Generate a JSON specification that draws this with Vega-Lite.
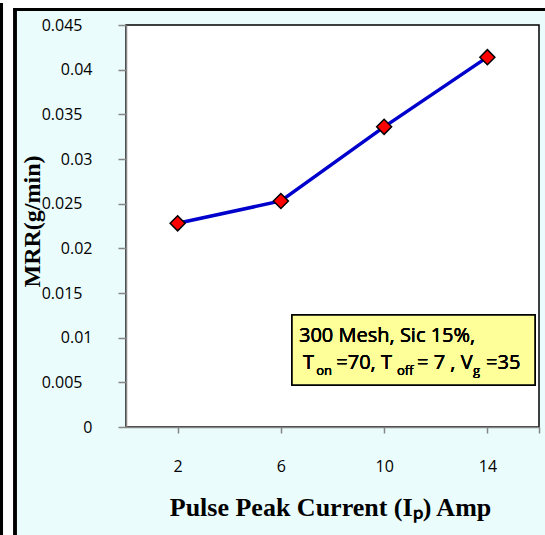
{
  "$schema": "https://vega.github.io/schema/vega-lite/v6.json",
  "width": 413,
  "height": 402,
  "autosize": "none",
  "padding": {"left": 126, "top": 25, "right": 6, "bottom": 108},
  "background": "#eafcfc",
  "config": {
    "view": {"fill": "white", "stroke": "black", "strokeWidth": 1.5},
    "axis": {"grid": false, "labelOverlap": false, "labelFlush": false}
  },
  "data": {"values": [
    {"current": 2, "mrr": 0.0228},
    {"current": 6, "mrr": 0.0253},
    {"current": 10, "mrr": 0.0336},
    {"current": 14, "mrr": 0.0414}
  ]},
  "layer": [
    {
      "mark": {"type": "rect", "fill": "white", "clip": false},
      "encoding": {"x": {"datum": -4.881}, "x2": {"datum": -4.339}, "y": {"datum": 0.047799}, "y2": {"datum": -0.01209}}
    },
    {
      "mark": {"type": "rect", "fill": "white", "clip": false},
      "encoding": {"x": {"datum": -4.881}, "x2": {"datum": 16.232}, "y": {"datum": 0.047799}, "y2": {"datum": 0.046735}}
    },
    {
      "mark": {"type": "rule", "color": "black", "strokeWidth": 3, "clip": false},
      "encoding": {"x": {"datum": -4.823}, "y": {"datum": 0.047463}, "y2": {"datum": -0.01209}}
    },
    {
      "mark": {"type": "rule", "color": "black", "strokeWidth": 3, "clip": false},
      "encoding": {"x": {"datum": -4.300}, "y": {"datum": 0.046735}, "y2": {"datum": -0.01209}}
    },
    {
      "mark": {"type": "rule", "color": "black", "strokeWidth": 3, "clip": false},
      "encoding": {"x": {"datum": -4.358}, "x2": {"datum": 16.232}, "y": {"datum": 0.046735}}
    },
    {
      "mark": {"type": "rect", "fill": "#ffff99", "stroke": "black", "strokeWidth": 1.5},
      "encoding": {"x": {"datum": 6.431}, "x2": {"datum": 15.845}, "y": {"datum": 0.012537}, "y2": {"datum": 0.004701}}
    },
    {
      "mark": {"type": "text", "text": "300 Mesh, Sic 15%,", "align": "left", "baseline": "alphabetic", "font": "Open Sans", "fontSize": 20, "color": "black"},
      "encoding": {"x": {"datum": 6.702}, "y": {"datum": 0.009515}}
    },
    {
      "mark": {"type": "text", "text": "T", "align": "left", "baseline": "alphabetic", "font": "Open Sans", "fontSize": 20, "color": "black"},
      "encoding": {"x": {"datum": 6.857}, "y": {"datum": 0.006493}}
    },
    {
      "mark": {"type": "text", "text": "on", "align": "left", "baseline": "alphabetic", "font": "Open Sans", "fontSize": 13, "dy": 6, "color": "black"},
      "encoding": {"x": {"datum": 7.372}, "y": {"datum": 0.006493}}
    },
    {
      "mark": {"type": "text", "text": "=70, T", "align": "left", "baseline": "alphabetic", "font": "Open Sans", "fontSize": 20, "color": "black"},
      "encoding": {"x": {"datum": 8.147}, "y": {"datum": 0.006493}}
    },
    {
      "mark": {"type": "text", "text": "off", "align": "left", "baseline": "alphabetic", "font": "Open Sans", "fontSize": 13, "dy": 6, "color": "black"},
      "encoding": {"x": {"datum": 10.499}, "y": {"datum": 0.006493}}
    },
    {
      "mark": {"type": "text", "text": "= 7 , V", "align": "left", "baseline": "alphabetic", "font": "Open Sans", "fontSize": 20, "color": "black"},
      "encoding": {"x": {"datum": 11.274}, "y": {"datum": 0.006493}}
    },
    {
      "mark": {"type": "text", "text": "g", "align": "left", "baseline": "alphabetic", "font": "Open Sans", "fontSize": 13, "dy": 6, "color": "black"},
      "encoding": {"x": {"datum": 13.443}, "y": {"datum": 0.006493}}
    },
    {
      "mark": {"type": "text", "text": "=35", "align": "left", "baseline": "alphabetic", "font": "Open Sans", "fontSize": 20, "color": "black"},
      "encoding": {"x": {"datum": 13.947}, "y": {"datum": 0.006493}}
    },
    {
      "mark": {"type": "line", "color": "#0000cc", "strokeWidth": 3.5},
      "encoding": {
        "x": {
          "field": "current", "type": "quantitative",
          "scale": {"domain": [0, 16], "nice": false, "zero": false},
          "axis": {
            "values": [2, 6, 10, 14, 16],
            "labelExpr": "datum.value == 16 ? '' : datum.label",
            "title": "Pulse Peak Current (Iₚ) Amp",
            "domainColor": "#868686", "domainWidth": 1.5,
            "tickColor": "#868686", "tickWidth": 1.5, "tickSize": 6,
            "labelPadding": 33, "labelBaseline": "middle",
            "labelFont": "Open Sans", "labelFontSize": 16, "labelColor": "black",
            "titleFont": "Liberation Serif", "titleFontWeight": "bold", "titleFontSize": 26, "titleColor": "black",
            "titleX": 204, "titleY": 80, "titleBaseline": "middle", "titleAlign": "center"
          }
        },
        "y": {
          "field": "mrr", "type": "quantitative",
          "scale": {"domain": [0, 0.045], "nice": false},
          "axis": {
            "values": [0, 0.005, 0.01, 0.015, 0.02, 0.025, 0.03, 0.035, 0.04, 0.045],
            "format": "~g",
            "domainColor": "#868686", "domainWidth": 1.5,
            "tickColor": "#868686", "tickWidth": 1.5, "tickSize": 8,
            "labelPadding": {"condition": {"test": "round(datum.value * 1000) % 10 == 5", "value": 36}, "value": 26},
            "labelBaseline": "middle",
            "labelFont": "Open Sans", "labelFontSize": 16, "labelColor": "black",
            "title": "MRR(g/min)",
            "titleFont": "Liberation Serif", "titleFontWeight": "bold", "titleFontSize": 24, "titleColor": "black",
            "titleX": -94, "titleY": 196, "titleBaseline": "middle", "titleAlign": "center", "titleAngle": -90
          }
        }
      }
    },
    {
      "mark": {"type": "point", "shape": "diamond", "filled": true, "fill": "red", "stroke": "black", "strokeWidth": 1.5, "size": 225, "opacity": 1},
      "encoding": {
        "x": {"field": "current", "type": "quantitative"},
        "y": {"field": "mrr", "type": "quantitative"}
      }
    }
  ]
}
